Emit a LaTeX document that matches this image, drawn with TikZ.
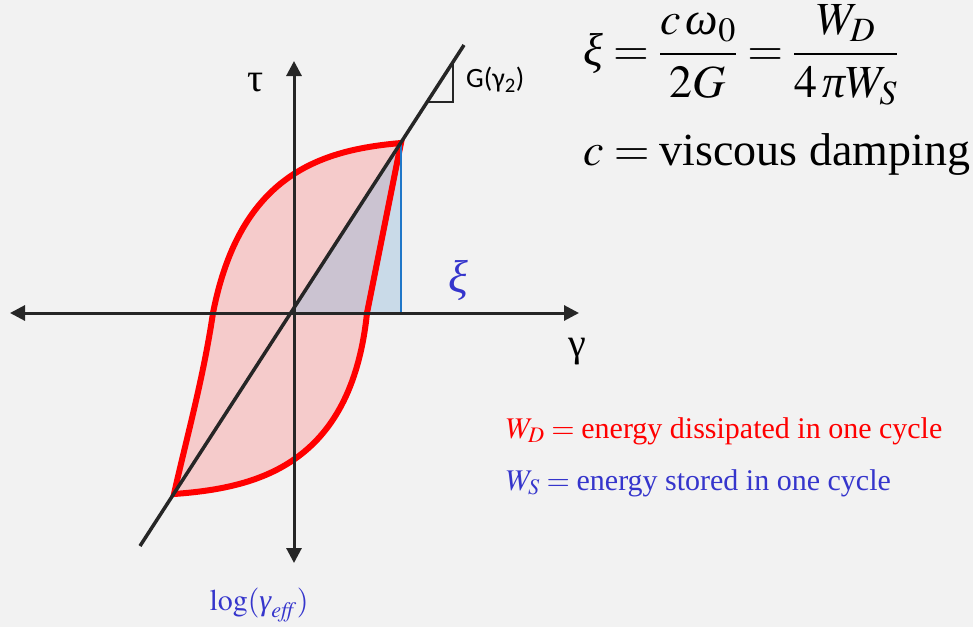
\documentclass[tikz,border=0pt]{standalone}
\usepackage{mathptmx}
\usepackage[no-math]{fontspec}
\setmainfont{Liberation Serif}
\newfontfamily\calfont{Carlito}
\usetikzlibrary{positioning,calc,arrows.meta}
\definecolor{cbg}{HTML}{F2F2F2}
\definecolor{cink}{HTML}{262626}
\definecolor{cred}{HTML}{FF0000}
\definecolor{cpink}{HTML}{F5CBCB}
\definecolor{cblue}{HTML}{3535CC}
\definecolor{ctri}{HTML}{8DB8DA}
\definecolor{cedge}{HTML}{1F77C8}
\newcommand{\gk}[1]{\mbox{\itshape #1}}
\begin{document}
\begin{tikzpicture}[x=1pt,y=-1pt,>={Triangle[length=15pt,width=15pt]},
    axis/.style={<->,line width=3pt,color=cink},
    every node/.style={inner sep=0pt}]
    % background and frame
    \path[fill=cbg,use as bounding box] (0,0) rectangle (973,627);
    % key points
    \coordinate (O) at (291,313);
    \coordinate (T) at (401,143);
    \coordinate (B) at (174,494);
    \coordinate (F) at (401,313);
    % hysteresis loop
    \path[fill=cpink] (T) .. controls (320,150) and (240,175) .. (213,313)
      .. controls (203,380) and (186,440) .. (B)
      .. controls (256,488) and (351,466) .. (367,313) -- cycle;
    % damping triangle
    \fill[ctri,fill opacity=0.4] (O) -- (F) -- (T) -- cycle;
    \draw[line width=6pt,draw=cred] (T) .. controls (320,150) and (240,175) .. (213,313)
      .. controls (203,380) and (186,440) .. (B)
      .. controls (256,488) and (351,466) .. (367,313) -- cycle;
    \draw[line width=2pt,cedge] (O) -- (F) -- (T);
    % axes
    \coordinate (xL) at (10,313);
    \coordinate (xR) at (579,313);
    \coordinate (yT) at (294,61);
    \coordinate (yB) at (294,563);
    \draw[axis] (xL) -- (xR);
    \draw[axis] (yB) -- (yT);
    % secant modulus line and slope mark
    \coordinate (dA) at (140,546);
    \coordinate (dB) at (464,45);
    \draw[line width=3.5pt,cink] (dA) -- (dB);
    \coordinate (sA) at (427.6,102);
    \coordinate (sB) at (453,102);
    \coordinate (sC) at (453,62.7);
    \draw[line width=2pt,cink] (sA) -- (sB) -- (sC);
    % labels
    \node[font=\fontsize{40}{42}\selectfont] (tau) at (256,83) {τ};
    \node[font=\fontsize{40}{42}\selectfont] (gam) at (577,352) {γ};
    \node[font=\calfont\fontsize{28}{30}\selectfont,anchor=west] (Glab) at (466,80) {G(γ\textsubscript{2})};
    \node[font=\fontsize{46}{48}\selectfont,color=cblue] (xi) at (458,280) {\gk{ξ}};
    \node[font=\fontsize{30}{32}\selectfont,color=cblue,anchor=base] (logg) at (259,610)
      {$\log(\gk{γ}_{\mathit{eff}})$};
    \node[font=\fontsize{46}{48}\selectfont,anchor=west] (xieq) at (583,55)
      {$\displaystyle \gk{ξ}=\frac{c\,\gk{ω}_0}{2G}=\frac{W_D}{4\,\gk{π}W_S}$};
    \node[font=\fontsize{46}{48}\selectfont,anchor=base west] (visc) at (583,165) {$c=\mbox{viscous damping}$};
    \node[font=\fontsize{30}{32}\selectfont,color=cred,anchor=base west] (wd) at (506,438)
      {$W_D=\mbox{energy dissipated in one cycle}$};
    \node[font=\fontsize{30}{32}\selectfont,color=cblue,anchor=base west] (ws) at (506,490)
      {$W_S=\mbox{energy stored in one cycle}$};
\end{tikzpicture}
\end{document}
